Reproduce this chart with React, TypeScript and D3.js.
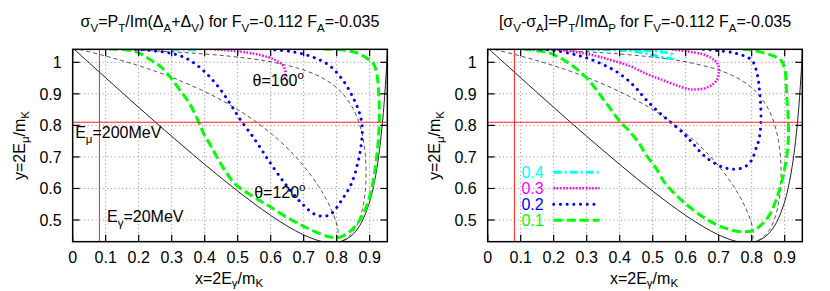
import React from 'react';
import * as d3 from 'd3';

type P = [number, number];

// axis ticks
const xTicks = [0, 0.1, 0.2, 0.3, 0.4, 0.5, 0.6, 0.7, 0.8, 0.9];
const xTickLabels = ['0', '0.1', '0.2', '0.3', '0.4', '0.5', '0.6', '0.7', '0.8', '0.9'];
const yTicks = [0.5, 0.6, 0.7, 0.8, 0.9, 1];
const yTickLabels = ['0.5', '0.6', '0.7', '0.8', '0.9', '1'];

// reference lines: E_gamma = 20 MeV, E_mu = 200 MeV
const xRef = 0.081;
const yRef = 0.81;

// kinematic boundary (solid)
const boundary: P[] = [
  [0, 1.0458], [0.05, 0.9982], [0.1, 0.9509], [0.15, 0.9039], [0.2, 0.8573], [0.25, 0.8111],
  [0.3, 0.7654], [0.35, 0.7205], [0.4, 0.6763], [0.45, 0.6333], [0.5, 0.5916], [0.55, 0.5518],
  [0.6, 0.5145], [0.65, 0.4809], [0.7, 0.4527], [0.75, 0.4332], [0.786, 0.428], [0.8, 0.429],
  [0.825, 0.4367], [0.85, 0.4553], [0.875, 0.4914], [0.9, 0.558], [0.91, 0.5989], [0.92, 0.6525],
  [0.93, 0.7243], [0.94, 0.8233], [0.945, 0.8877], [0.95, 0.966], [0.9535, 1.0315], [0.954, 1.0417],
];

// constant-angle lines (thin dashed)
const theta160: P[] = [
  [0, 1.0458], [0.05, 1.0443], [0.1673, 1.04], [0.3525, 1.03], [0.4692, 1.02], [0.5493, 1.01],
  [0.6077, 1.0], [0.687, 0.98], [0.738, 0.96], [0.7735, 0.94], [0.7994, 0.92], [0.819, 0.9],
  [0.8515, 0.85], [0.8703, 0.8], [0.8813, 0.75], [0.8872, 0.7], [0.8891, 0.65], [0.8873, 0.6],
  [0.8811, 0.55], [0.8683, 0.5], [0.8546, 0.47], [0.8395, 0.45], [0.8275, 0.44], [0.8042, 0.43], [0.786, 0.428],
];
const theta120: P[] = [
  [0, 1.0458], [0.0239, 1.04], [0.0998, 1.02], [0.1671, 1.0], [0.2272, 0.98], [0.3061, 0.95],
  [0.4141, 0.9], [0.5003, 0.85], [0.5703, 0.8], [0.628, 0.75], [0.676, 0.7], [0.7161, 0.65],
  [0.7494, 0.6], [0.7763, 0.55], [0.7963, 0.5], [0.8037, 0.47], [0.8048, 0.45], [0.8029, 0.44],
  [0.7948, 0.43], [0.786, 0.428],
];

// left panel contours
const leftGreen: P[] = [
  [0.11, 1.042], [0.16, 1.04], [0.2, 1.03], [0.225, 1.015], [0.25, 0.998], [0.27, 0.983], [0.295, 0.954],
  [0.325, 0.912], [0.355, 0.868], [0.38, 0.815], [0.396, 0.776], [0.416, 0.74], [0.437, 0.7], [0.462, 0.656],
  [0.49, 0.616], [0.52, 0.592], [0.56, 0.566], [0.6, 0.541], [0.65, 0.508], [0.7, 0.48], [0.75, 0.456],
  [0.78, 0.446], [0.8, 0.444], [0.82, 0.45], [0.845, 0.468], [0.87, 0.5], [0.886, 0.532], [0.9, 0.575],
  [0.912, 0.63], [0.92, 0.69], [0.926, 0.75], [0.929, 0.81], [0.928, 0.89], [0.922, 0.96], [0.912, 0.995],
  [0.896, 1.01], [0.866, 1.028], [0.825, 1.038], [0.76, 1.042],
];
const leftBlue: P[] = [
  [0.19, 1.041], [0.25, 1.036], [0.3, 1.028], [0.34, 1.015], [0.37, 0.996], [0.4, 0.97], [0.43, 0.937],
  [0.46, 0.896], [0.485, 0.856], [0.512, 0.812], [0.542, 0.77], [0.565, 0.735], [0.593, 0.69], [0.643, 0.616],
  [0.694, 0.553], [0.734, 0.518], [0.765, 0.512], [0.785, 0.521], [0.815, 0.563], [0.845, 0.616],
  [0.866, 0.69], [0.876, 0.754], [0.877, 0.8], [0.868, 0.843], [0.846, 0.896], [0.815, 0.949],
  [0.775, 0.992], [0.724, 1.018], [0.664, 1.034], [0.603, 1.04],
];
const leftMagenta: P[] = [
  [0.43, 1.041], [0.49, 1.036], [0.54, 1.029], [0.59, 1.017], [0.62, 1.004], [0.637, 0.99],
  [0.644, 0.974], [0.645, 0.96], [0.642, 0.95],
];
const leftCyan: P[] = [[0.3, 1.041], [0.34, 1.04], [0.38, 1.039]];

// right panel contours
const rightGreen: P[] = [
  [0.108, 1.042], [0.15, 1.037], [0.189, 1.029], [0.239, 1.002], [0.28, 0.97], [0.31, 0.939], [0.341, 0.896],
  [0.371, 0.854], [0.401, 0.812], [0.431, 0.78], [0.462, 0.738], [0.477, 0.711], [0.507, 0.669],
  [0.538, 0.616], [0.568, 0.582], [0.598, 0.553], [0.659, 0.505], [0.72, 0.474], [0.77, 0.463],
  [0.81, 0.47], [0.85, 0.51], [0.881, 0.585], [0.901, 0.669], [0.911, 0.754], [0.911, 0.812],
  [0.906, 0.896], [0.901, 0.975], [0.89, 1.005], [0.871, 1.018], [0.84, 1.029], [0.8, 1.039], [0.77, 1.042],
];
const rightBlue: P[] = [
  [0.12, 1.042], [0.189, 1.039], [0.27, 1.023], [0.33, 1.002], [0.391, 0.97], [0.441, 0.928], [0.477, 0.885],
  [0.517, 0.843], [0.558, 0.807], [0.598, 0.77], [0.62, 0.745], [0.659, 0.701], [0.709, 0.669],
  [0.749, 0.661], [0.78, 0.669], [0.8, 0.69], [0.815, 0.733], [0.822, 0.754], [0.828, 0.812],
  [0.825, 0.896], [0.815, 0.97], [0.8, 1.007], [0.75, 1.029], [0.679, 1.039], [0.64, 1.042],
];
const rightMagenta: P[] = [
  [0.2, 1.042], [0.29, 1.029], [0.361, 1.011], [0.431, 0.988], [0.484, 0.962], [0.527, 0.945], [0.578, 0.925],
  [0.608, 0.915], [0.628, 0.914], [0.659, 0.918], [0.679, 0.928], [0.695, 0.945], [0.7, 0.965], [0.699, 0.99],
  [0.689, 1.005], [0.659, 1.023], [0.608, 1.034], [0.558, 1.041],
];
const rightCyan: P[] = [
  [0.3, 1.042], [0.391, 1.039], [0.45, 1.034], [0.517, 1.019], [0.55, 1.012], [0.562, 1.013], [0.558, 1.025],
  [0.527, 1.033], [0.47, 1.039], [0.44, 1.042],
];

const legendLabels = ['0.4', '0.3', '0.2', '0.1'];

type Seg = [string, number];

const FONT = "'Liberation Sans', Arial, Helvetica, sans-serif";

function Rich({ segs, x, y, size, anchor = 'start', fill = '#000', transform, sub = 0.32 }:
  { segs: Seg[]; x: number; y: number; size: number; anchor?: string; fill?: string; transform?: string; sub?: number }) {
  let prev = 0;
  return (
    <text x={x} y={y} fontSize={size} textAnchor={anchor} fill={fill} transform={transform} fontFamily={FONT}>
      {segs.map(([t, s], i) => {
        const shift = s < 0 ? size * sub : s > 0 ? -size * 0.42 : 0;
        const dy = shift - prev;
        prev = shift;
        return (
          <tspan key={i} dy={dy} fontSize={s ? size * 0.72 : size}>{t}</tspan>
        );
      })}
    </text>
  );
}

const STYLES = {
  green: { stroke: '#00ff00', width: 3, dash: '9,4', cap: 'butt' },
  blue: { stroke: '#0000ff', width: 3, dash: '0.1,6.6', cap: 'round' },
  magenta: { stroke: '#ff00ff', width: 2.5, dash: '1.6,1.6', cap: 'butt' },
  cyan: { stroke: '#00ffff', width: 3, dash: '8,3,2,3', cap: 'butt' },
};

const TOP = 49.33;
const BOTTOM = 241.67;
const FS = 16;

function Panel({ left, title, curves, id, annotate, legend }:
  { left: number; title: Seg[]; curves: { data: P[]; style: keyof typeof STYLES }[]; id: string; annotate?: boolean; legend?: boolean }) {
  const x = d3.scaleLinear().domain([0, 0.9535]).range([left, left + 314.66]);
  const y = d3.scaleLinear().domain([0.4313, 1.0412]).range([BOTTOM, TOP]);
  const line = d3.line<P>().x(d => x(d[0])).y(d => y(d[1])).curve(d3.curveCatmullRom.alpha(0.5));
  const [x0, x1] = x.range();
  const tickLen = 7;
  const cx = (x0 + x1) / 2;
  return (
    <g>
      <defs>
        <clipPath id={id}>
          <rect x={x0} y={TOP} width={x1 - x0} height={BOTTOM - TOP} />
        </clipPath>
      </defs>
      {/* grid */}
      {xTicks.filter(t => t > 0).map(t => (
        <line key={'gx' + t} x1={x(t)} x2={x(t)} y1={TOP} y2={BOTTOM} stroke="#999" strokeWidth={1} strokeDasharray="1.2,2.6" />
      ))}
      {yTicks.map(t => (
        <line key={'gy' + t} x1={x0} x2={x1} y1={y(t)} y2={y(t)} stroke="#999" strokeWidth={1} strokeDasharray="1.2,2.6" />
      ))}
      <g clipPath={`url(#${id})`}>
        <path d={line(boundary) || ''} fill="none" stroke="#222" strokeWidth={1} />
        <path d={line(theta160) || ''} fill="none" stroke="#444" strokeWidth={0.9} strokeDasharray="4,3" />
        <path d={line(theta120) || ''} fill="none" stroke="#444" strokeWidth={0.9} strokeDasharray="4,3" />
        {curves.map((c, i) => {
          const s = STYLES[c.style];
          return (
            <path key={i} d={line(c.data) || ''} fill="none" stroke={s.stroke} strokeWidth={s.width}
              strokeDasharray={s.dash} strokeLinecap={s.cap as any} />
          );
        })}
        <line x1={x(xRef)} x2={x(xRef)} y1={TOP} y2={BOTTOM} stroke="#ff2020" strokeWidth={1} />
        <line x1={x0} x2={x1} y1={y(yRef)} y2={y(yRef)} stroke="#ff2020" strokeWidth={1} />
      </g>
      {/* frame */}
      <rect x={x0} y={TOP} width={x1 - x0} height={BOTTOM - TOP} fill="none" stroke="#000" strokeWidth={1.5} />
      {/* ticks */}
      {xTicks.map(t => (
        <g key={'tx' + t}>
          <line x1={x(t)} x2={x(t)} y1={BOTTOM} y2={BOTTOM - tickLen} stroke="#000" strokeWidth={1.2} />
          <line x1={x(t)} x2={x(t)} y1={TOP} y2={TOP + tickLen} stroke="#000" strokeWidth={1.2} />
        </g>
      ))}
      {yTicks.map(t => (
        <g key={'ty' + t}>
          <line x1={x0} x2={x0 + tickLen} y1={y(t)} y2={y(t)} stroke="#000" strokeWidth={1.2} />
          <line x1={x1} x2={x1 - tickLen} y1={y(t)} y2={y(t)} stroke="#000" strokeWidth={1.2} />
        </g>
      ))}
      {xTicks.map((t, i) => (
        <text key={'lx' + t} x={x(t)} y={263.3} fontSize={FS} textAnchor="middle" fontFamily={FONT}>{xTickLabels[i]}</text>
      ))}
      {yTicks.map((t, i) => (
        <text key={'ly' + t} x={x0 - 11} y={y(t) + 5.7} fontSize={FS} textAnchor="end" fontFamily={FONT}>{yTickLabels[i]}</text>
      ))}
      <Rich segs={title} x={cx} y={26.7} size={FS} anchor="middle" />
      <Rich segs={[['x=2E', 0], ['γ', -1], ['/m', 0], ['K', -1]]} x={cx - 1} y={284} size={FS} anchor="middle" sub={0.2} />
      <Rich segs={[['y=2E', 0], ['μ', -1], ['/m', 0], ['K', -1]]} x={0} y={0} size={FS} anchor="middle" sub={0.25}
        transform={`translate(${x0 - 48},${(TOP + BOTTOM) / 2}) rotate(-90)`} />
      {annotate && (
        <g>
          <Rich segs={[['θ=160', 0], ['o', 1]]} x={x(0.545)} y={86} size={FS} />
          <Rich segs={[['θ=120', 0], ['o', 1]]} x={x(0.55)} y={198} size={FS} />
          <Rich segs={[['E', 0], ['μ', -1], ['=200MeV', 0]]} x={x0 + 2.5} y={137.5} size={FS} />
          <Rich segs={[['E', 0], ['γ', -1], ['=20MeV', 0]]} x={x(0.104)} y={222} size={FS} />
        </g>
      )}
      {legend && (
        <g>
          {legendLabels.map((lab, i) => {
            const st = [STYLES.cyan, STYLES.magenta, STYLES.blue, STYLES.green][i];
            const ly = 172.3 + i * 16;
            return (
              <g key={lab}>
                <text x={x0 + 56} y={ly + 5.7} fontSize={FS} textAnchor="end" fill={st.stroke} fontFamily={FONT}>{lab}</text>
                <line x1={x0 + 66} x2={x0 + 112} y1={ly} y2={ly} stroke={st.stroke} strokeWidth={st.width}
                  strokeDasharray={st.dash} strokeLinecap={st.cap as any} />
              </g>
            );
          })}
        </g>
      )}
    </g>
  );
}

export default function App() {
  const leftTitle: Seg[] = [
    ['σ', 0], ['V', -1], ['=P', 0], ['T', -1], ['/Im(Δ', 0], ['A', -1], ['+Δ', 0], ['V', -1],
    [') for F', 0], ['V', -1], ['=-0.112 F', 0], ['A', -1], ['=-0.035', 0],
  ];
  const rightTitle: Seg[] = [
    ['[σ', 0], ['V', -1], ['-σ', 0], ['A', -1], [']=P', 0], ['T', -1], ['/ImΔ', 0], ['P', -1],
    [' for F', 0], ['V', -1], ['=-0.112 F', 0], ['A', -1], ['=-0.035', 0],
  ];
  return (
    <svg width={830} height={291} style={{ position: 'absolute', left: 0, top: 0, background: '#fff' }}>
      <rect x={0} y={0} width={830} height={291} fill="#fff" />
      <Panel left={72.67} id="clipL" title={leftTitle} annotate
        curves={[
          { data: leftGreen, style: 'green' },
          { data: leftBlue, style: 'blue' },
          { data: leftMagenta, style: 'magenta' },
          { data: leftCyan, style: 'cyan' },
        ]} />
      <Panel left={487.67} id="clipR" title={rightTitle} legend
        curves={[
          { data: rightGreen, style: 'green' },
          { data: rightBlue, style: 'blue' },
          { data: rightMagenta, style: 'magenta' },
          { data: rightCyan, style: 'cyan' },
        ]} />
    </svg>
  );
}
